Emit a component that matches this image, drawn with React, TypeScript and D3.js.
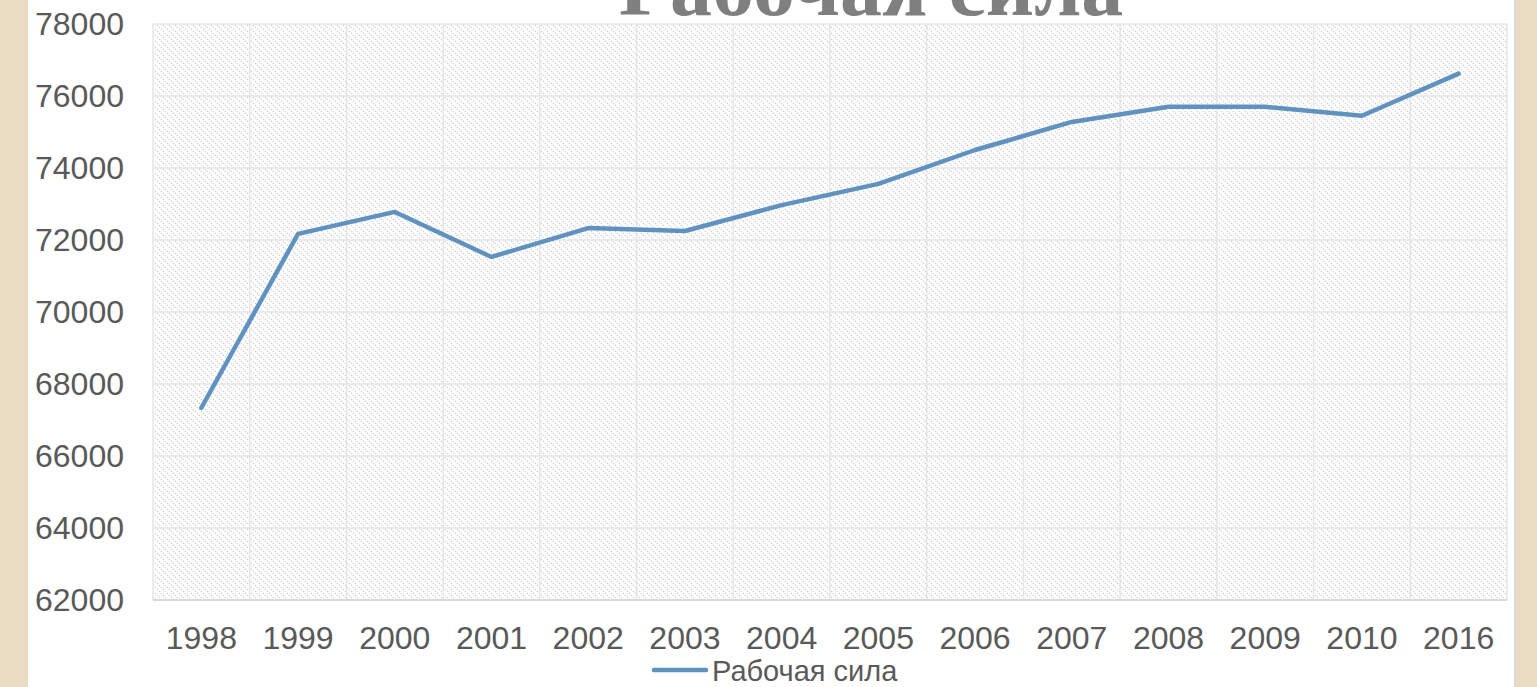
import React from "react";
import * as d3 from "d3";

const years = ["1998", "1999", "2000", "2001", "2002", "2003", "2004", "2005", "2006", "2007", "2008", "2009", "2010", "2016"];
const labour = [67340, 72170, 72780, 71530, 72330, 72250, 72970, 73560, 74500, 75280, 75700, 75700, 75450, 76620];
const yTicks = [62000, 64000, 66000, 68000, 70000, 72000, 74000, 76000, 78000];
const seriesName = "Рабочая сила";
const title = "Рабочая сила";

const W = 1537;
const H = 687;
const plot = { left: 153, right: 1507, top: 24, bottom: 600 };

export default function App() {
  const x = d3.scaleBand<string>().domain(years).range([plot.left, plot.right]).padding(0);
  const y = d3.scaleLinear().domain([62000, 78000]).range([plot.bottom, plot.top]);
  const line = d3
    .line<number>()
    .x((_, i) => (x(years[i]) as number) + x.bandwidth() / 2)
    .y((d) => y(d));
  const boundaries = years.map((yr) => x(yr) as number).concat([plot.right]);
  const sans = "'Liberation Sans', Arial, sans-serif";

  return (
    <div style={{ position: "absolute", left: 0, top: 0 }}>
      <svg width={W} height={H} style={{ display: "block" }}>
        <defs>
          <pattern id="hatch" patternUnits="userSpaceOnUse" width="6" height="6">
            <rect width="6" height="6" fill="#ffffff" />
            <path d="M-1,-1 L7,7 M-1,5 L1,7 M5,-1 L7,1" stroke="#cfcfcf" strokeWidth="1.2" strokeDasharray="1.4 1.4" />
          </pattern>
        </defs>
        <rect x={0} y={0} width={W} height={H} fill="#ffffff" />
        <rect x={0} y={0} width={28} height={H} fill="#e9dcc2" />
        <rect x={1514} y={0} width={2} height={H} fill="#d8d8d8" />
        <rect x={1516} y={0} width={W - 1516} height={H} fill="#e9dcc2" />

        <rect
          x={plot.left}
          y={plot.top}
          width={plot.right - plot.left}
          height={plot.bottom - plot.top}
          fill="url(#hatch)"
        />
        {yTicks.map((t) => (
          <line key={"h" + t} x1={plot.left} x2={plot.right} y1={y(t)} y2={y(t)} stroke="#e6e6e6" strokeWidth={1.5} />
        ))}
        {boundaries.map((b, i) => (
          <line key={"v" + i} x1={b} x2={b} y1={plot.top} y2={plot.bottom} stroke="#e6e6e6" strokeWidth={1.5} />
        ))}
        <line x1={plot.left} x2={plot.right} y1={plot.bottom} y2={plot.bottom} stroke="#d9d9d9" strokeWidth={2} />

        {yTicks.map((t) => (
          <text
            key={"yl" + t}
            x={124}
            y={y(t)}
            textAnchor="end"
            dominantBaseline="central"
            fontFamily={sans}
            fontSize={32}
            fill="#595959"
          >
            {t}
          </text>
        ))}
        {years.map((yr) => (
          <text
            key={"xl" + yr}
            x={(x(yr) as number) + x.bandwidth() / 2}
            y={638}
            textAnchor="middle"
            dominantBaseline="central"
            fontFamily={sans}
            fontSize={32}
            fill="#595959"
          >
            {yr}
          </text>
        ))}

        <path d={line(labour) || ""} fill="none" stroke="#6092c0" strokeWidth={4.5} strokeLinejoin="round" strokeLinecap="round" />

        <line x1={654} x2={706} y1={670} y2={670} stroke="#6092c0" strokeWidth={4.5} strokeLinecap="round" />
        <text x={712} y={681} fontFamily={sans} fontSize={29} fill="#595959">
          {seriesName}
        </text>

        <text
          x={871}
          y={15}
          textAnchor="middle"
          fontFamily="'Liberation Serif', 'Times New Roman', serif"
          fontWeight="bold"
          fontSize={84}
          fill="#7f7f7f"
        >
          {title}
        </text>
      </svg>
    </div>
  );
}
